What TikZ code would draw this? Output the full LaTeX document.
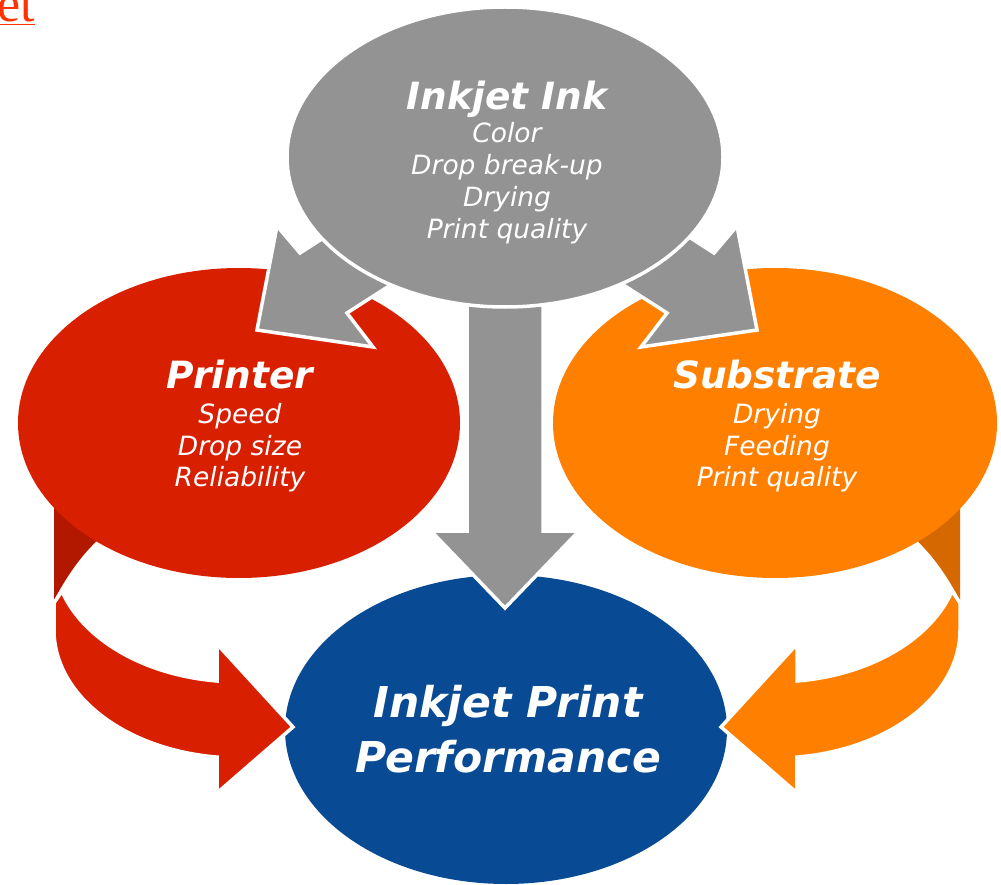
\documentclass[tikz,border=0pt]{standalone}
\usepackage{fontspec}
\newfontfamily\vfont{DejaVu Sans}
\newfontfamily\serfont{Liberation Serif}
\usetikzlibrary{shapes.geometric}
\definecolor{inkgray}{RGB}{147,147,147}
\definecolor{prred}{RGB}{216,32,0}
\definecolor{prreddark}{RGB}{178,24,0}
\definecolor{suborange}{RGB}{255,128,0}
\definecolor{suborangedark}{RGB}{214,104,0}
\definecolor{perfblue}{RGB}{8,74,148}
\definecolor{linkred}{RGB}{255,51,0}
\begin{document}
\begin{tikzpicture}[x=1pt,y=-1pt,
  blob/.style={ellipse, inner sep=0pt, outer sep=0pt},
  wb/.style={draw=white, line width=3.5pt, line join=miter},
  ttl/.style={text=white, font=\vfont\bfseries\itshape\fontsize{37.5}{45}\selectfont, anchor=base, inner sep=0pt},
  sub/.style={text=white, font=\vfont\itshape\fontsize{26.5}{32}\selectfont, anchor=base, inner sep=0pt},
  big/.style={text=white, font=\vfont\bfseries\itshape\fontsize{42.5}{50}\selectfont, anchor=base, inner sep=0pt}]
\useasboundingbox (0,0) rectangle (1001,885);

% back (dark) faces of the curved ribbons
\fill[prreddark] (54,470) -- (54,600) .. controls (66,578) and (80,556) .. (100,538) -- (150,500) -- cycle;
\begin{scope}[xshift=1014pt, xscale=-1]
\fill[suborangedark] (54,470) -- (54,600) .. controls (66,578) and (80,556) .. (100,538) -- (150,500) -- cycle;
\end{scope}

% ellipses
\node[blob, fill=prred, minimum width=442pt, minimum height=310pt] (printer) at (239,423) {};
\node[blob, fill=suborange, minimum width=444pt, minimum height=310pt] (substrate) at (775,423) {};
\node[blob, fill=perfblue, minimum width=442pt, minimum height=309pt] (perf) at (506,729.5) {};

% front faces of the curved ribbons (block arrows)
\fill[prred, wb] (62,591) -- (54,603) -- (54,630)
  arc[start angle=180, end angle=96.8, x radius=185, y radius=128]
  -- (217,793) -- (293,727) -- (217,644) -- (217,681)
  arc[start angle=96.8, end angle=163.1, x radius=185, y radius=128] -- cycle;
\begin{scope}[xshift=1014pt, xscale=-1]
\fill[suborange, wb] (62,591) -- (54,603) -- (54,630)
  arc[start angle=180, end angle=96.8, x radius=185, y radius=128]
  -- (217,793) -- (293,727) -- (217,644) -- (217,681)
  arc[start angle=96.8, end angle=163.1, x radius=185, y radius=128] -- cycle;
\end{scope}

% gray diagonal arrows
\fill[inkgray, wb] (257,330) -- (373,347) -- (347,313) -- (414,270) -- (367,210) -- (300,253) -- (277,226) -- cycle;
\begin{scope}[xshift=1014pt, xscale=-1]
\fill[inkgray, wb] (257,330) -- (373,347) -- (347,313) -- (414,270) -- (367,210) -- (300,253) -- (277,226) -- cycle;
\end{scope}

% gray down arrow
\fill[inkgray, wb] (467,280) -- (467,531) -- (431,531) -- (505,608) -- (579,531) -- (543,531) -- (543,280) -- cycle;

% top ellipse
\node[blob, fill=inkgray, draw=white, line width=3.5pt, minimum width=436pt, minimum height=300pt] (ink) at (505,157) {};

% texts
\node[ttl] (t1) at (507,110) {Inkjet Ink};
\node[sub] (t2) at (507,143) {Color};
\node[sub] (t3) at (507,175) {Drop break-up};
\node[sub] (t4) at (507,207) {Drying};
\node[sub] (t5) at (507,239) {Print quality};

\node[ttl] (p1) at (240,388) {Printer};
\node[sub] (p2) at (240,423) {Speed};
\node[sub] (p3) at (240,455) {Drop size};
\node[sub] (p4) at (240,486) {Reliability};

\node[ttl] (s1) at (777,388) {Substrate};
\node[sub] (s2) at (777,423) {Drying};
\node[sub] (s3) at (777,455) {Feeding};
\node[sub] (s4) at (777,486) {Print quality};

\node[big] (b1) at (508,717) {Inkjet Print};
\node[big] (b2) at (508,772) {Performance};

\node[text=linkred, font=\serfont\fontsize{52}{58}\selectfont, anchor=base east, inner sep=0pt] (link) at (35,22) {\underline{et}};
\end{tikzpicture}
\end{document}
